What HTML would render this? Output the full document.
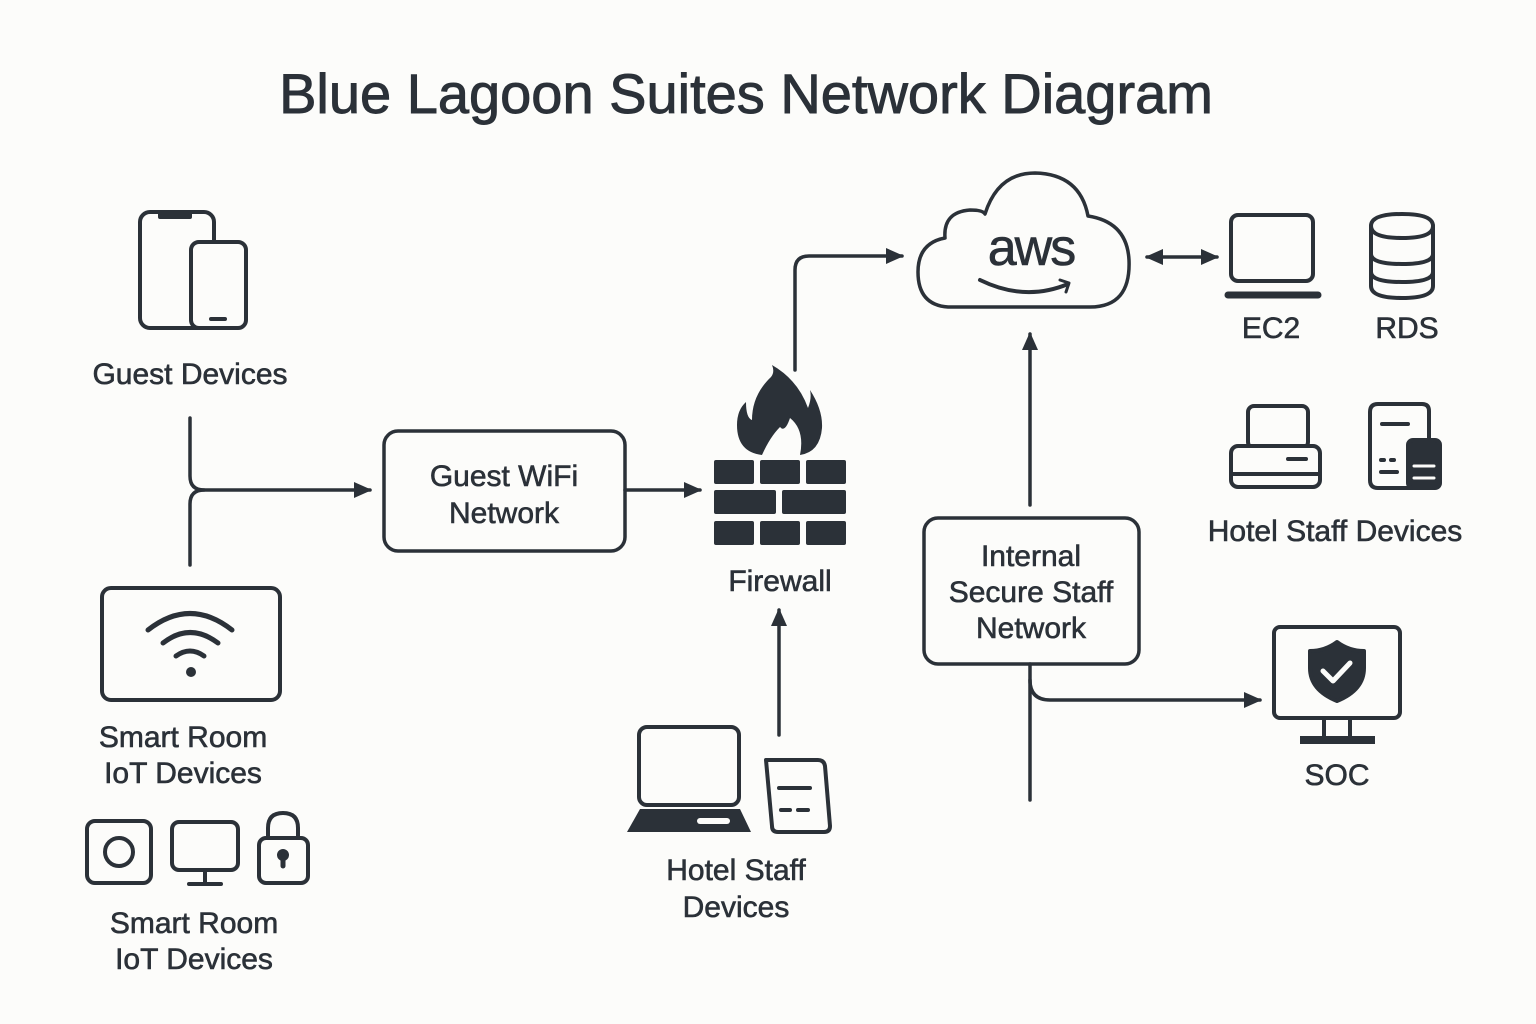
<!DOCTYPE html>
<html><head><meta charset="utf-8"><style>
html,body{margin:0;padding:0;background:#fcfcfa;}
svg{display:block}
text{font-family:"Liberation Sans",sans-serif;fill:#2b3138;text-anchor:middle;stroke:#2b3138;stroke-width:0.6}
</style></head><body>
<svg width="1536" height="1024" viewBox="0 0 1536 1024" xmlns="http://www.w3.org/2000/svg">
<defs>
<marker id="ah" markerWidth="18" markerHeight="18" refX="16" refY="9" orient="auto-start-reverse" markerUnits="userSpaceOnUse" viewBox="0 0 18 18">
<path d="M0,1 L18,9 L0,17 z" fill="#2b3138"/></marker>
</defs>
<rect width="1536" height="1024" fill="#fcfcfa"/>
<text x="746" y="113" font-size="56" style="stroke-width:0.9">Blue Lagoon Suites Network Diagram</text>

<g fill="none" stroke="#2b3138" stroke-width="4" stroke-linecap="round" stroke-linejoin="round">
<rect x="140" y="212" width="74" height="116" rx="10"/>
<path d="M160 212 h30 v5 h-30z" fill="#2b3138"/>
<rect x="191" y="242" width="55" height="86" rx="8" fill="#fcfcfa"/>
<line x1="211" y1="319" x2="225" y2="319"/>
<path d="M190 418 V476 Q190 490 204 490 H370" marker-end="url(#ah)" stroke-width="3.5"/>
<path d="M190 565 V504 Q190 490 204 490" stroke-width="3.5"/>
<rect x="384" y="431" width="241" height="120" rx="14" stroke-width="3.5"/>
<line x1="625" y1="490" x2="700" y2="490" marker-end="url(#ah)" stroke-width="3.5"/>
<path d="M795 370 V270 Q795 256 809 256 H902" marker-end="url(#ah)" stroke-width="3.5"/>
<line x1="779" y1="735" x2="779" y2="610" marker-end="url(#ah)" stroke-width="3.5"/>
<rect x="639" y="727" width="100" height="78" rx="8"/>
<path d="M766 760 h52 q6 0 7 6 l5 60 q0 6 -6 6 h-46 q-6 0 -6 -6 z"/>
<line x1="779" y1="788" x2="810" y2="788"/>
<line x1="781" y1="810" x2="790" y2="810"/><line x1="798" y1="810" x2="808" y2="810"/>
<path d="M948 307 Q918 305 918 272 Q918 243 945 238 Q943 212 970 210 Q983 210 985 214 Q998 173 1035 173 Q1080 174 1088 216 Q1127 222 1129 260 Q1131 307 1090 307 Z" stroke-width="3.5"/>
<path d="M980 280 Q1025 302 1068 284" stroke-width="4"/>
<path d="M1060 280 l9 3 l-3 9" stroke-width="3"/>
<line x1="1147" y1="257" x2="1217" y2="257" marker-end="url(#ah)" marker-start="url(#ah)" stroke-width="3.5"/>
<rect x="1231" y="215" width="82" height="66" rx="7"/>
<line x1="1228" y1="295" x2="1318" y2="295" stroke-width="7"/>
<path d="M1371 226 q0 -12 31 -12 q31 0 31 12 v60 q0 12 -31 12 q-31 0 -31 -12 z"/>
<path d="M1371 226 q0 12 31 12 q31 0 31 -12"/>
<path d="M1371 254 q0 10 31 10 q31 0 31 -10"/>
<path d="M1371 272 q0 10 31 10 q31 0 31 -10"/>
<line x1="1030" y1="505" x2="1030" y2="334" marker-end="url(#ah)" stroke-width="3.5"/>
<rect x="1248" y="406" width="60" height="42" rx="6"/>
<rect x="1231" y="446" width="89" height="41" rx="7" fill="#fcfcfa"/>
<line x1="1232" y1="474" x2="1319" y2="474"/>
<line x1="1288" y1="459" x2="1306" y2="459"/>
<path d="M1418 488 h-40 q-8 0 -8 -8 v-68 q0 -8 8 -8 h44 q7 0 7 7 v30"/>
<line x1="1382" y1="424" x2="1408" y2="424"/>
<rect x="1408" y="440" width="32" height="48" rx="5" fill="#2b3138"/>
<line x1="1414" y1="466" x2="1434" y2="466" stroke="#fcfcfa" stroke-width="3"/>
<line x1="1414" y1="478" x2="1434" y2="478" stroke="#fcfcfa" stroke-width="3"/>
<line x1="1381" y1="460" x2="1384" y2="460"/><line x1="1391" y1="460" x2="1394" y2="460"/>
<line x1="1381" y1="472" x2="1397" y2="472"/>
<rect x="924" y="518" width="215" height="146" rx="14" stroke-width="3.5"/>
<line x1="1030" y1="664" x2="1030" y2="800" stroke-width="3.5"/>
<path d="M1030 680 Q1030 700 1050 700 H1260" marker-end="url(#ah)" stroke-width="3.5"/>
<rect x="1274" y="627" width="126" height="91" rx="6"/>
<path d="M1324 720 v20 M1350 720 v20"/>
<rect x="1300" y="736" width="75" height="8" fill="#2b3138" stroke="none"/>
<path d="M1337 642 q12 9 27 9 v17 q0 22 -27 33 q-27 -11 -27 -33 v-17 q15 0 27 -9z" fill="#2b3138"/>
<path d="M1323 671 l10 10 l17 -18" stroke="#fcfcfa" stroke-width="5"/>
<rect x="102" y="588" width="178" height="112" rx="9"/>
<path d="M148 630 Q190 597 232 630" stroke-width="5"/>
<path d="M163 643 Q190 622 218 643" stroke-width="5"/>
<path d="M176 656 Q190 646 204 656" stroke-width="5"/>
<circle cx="191" cy="672" r="5" fill="#2b3138" stroke="none"/>
<rect x="87" y="821" width="64" height="62" rx="8"/>
<circle cx="119" cy="852" r="14"/>
<rect x="172" y="822" width="66" height="48" rx="7"/>
<line x1="205" y1="870" x2="205" y2="883"/><line x1="189" y1="884" x2="221" y2="884"/>
<path d="M268 838 v-10 q0 -15 15 -15 q15 0 15 15 v10"/>
<rect x="259" y="838" width="49" height="45" rx="7"/>
<path d="M283 854 v12" stroke-width="5"/>
<circle cx="283" cy="855" r="4" fill="#2b3138"/>
</g>
<g fill="#2b3138">
<path d="M762 455 Q737 452 737 425 Q737 410 746 402 Q746 418 752 420 Q752 395 771 377 Q775 372 772 365 Q798 380 808 408 Q812 398 810 390 Q823 410 822 428 Q820 452 800 455 Q805 430 790 418 Q785 433 780 427 Q770 437 762 455Z"/>
<rect x="714" y="460" width="40" height="24" rx="2"/><rect x="760" y="460" width="40" height="24" rx="2"/><rect x="806" y="460" width="40" height="24" rx="2"/>
<rect x="714" y="490" width="62" height="24" rx="2"/><rect x="782" y="490" width="64" height="24" rx="2"/>
<rect x="714" y="521" width="40" height="24" rx="2"/><rect x="760" y="521" width="40" height="24" rx="2"/><rect x="806" y="521" width="40" height="24" rx="2"/>
<path d="M640 809 H740 L751 832 H627Z"/>
</g>
<rect x="697" y="818" width="33" height="6" rx="3" fill="#fcfcfa"/>

<text x="1031" y="265" font-size="52" letter-spacing="-2">aws</text>
<g font-size="30">
<text x="190" y="384">Guest Devices</text>
<text x="504" y="486">Guest WiFi</text>
<text x="504" y="523">Network</text>
<text x="780" y="591">Firewall</text>
<text x="736" y="880">Hotel Staff</text>
<text x="736" y="917">Devices</text>
<text x="1271" y="338">EC2</text>
<text x="1407" y="338">RDS</text>
<text x="1335" y="541">Hotel Staff Devices</text>
<text x="1031" y="566">Internal</text>
<text x="1031" y="602">Secure Staff</text>
<text x="1031" y="638">Network</text>
<text x="1337" y="785">SOC</text>
<text x="183" y="747">Smart Room</text>
<text x="183" y="783">IoT Devices</text>
<text x="194" y="933">Smart Room</text>
<text x="194" y="969">IoT Devices</text>
</g>
</svg>
</body></html>
